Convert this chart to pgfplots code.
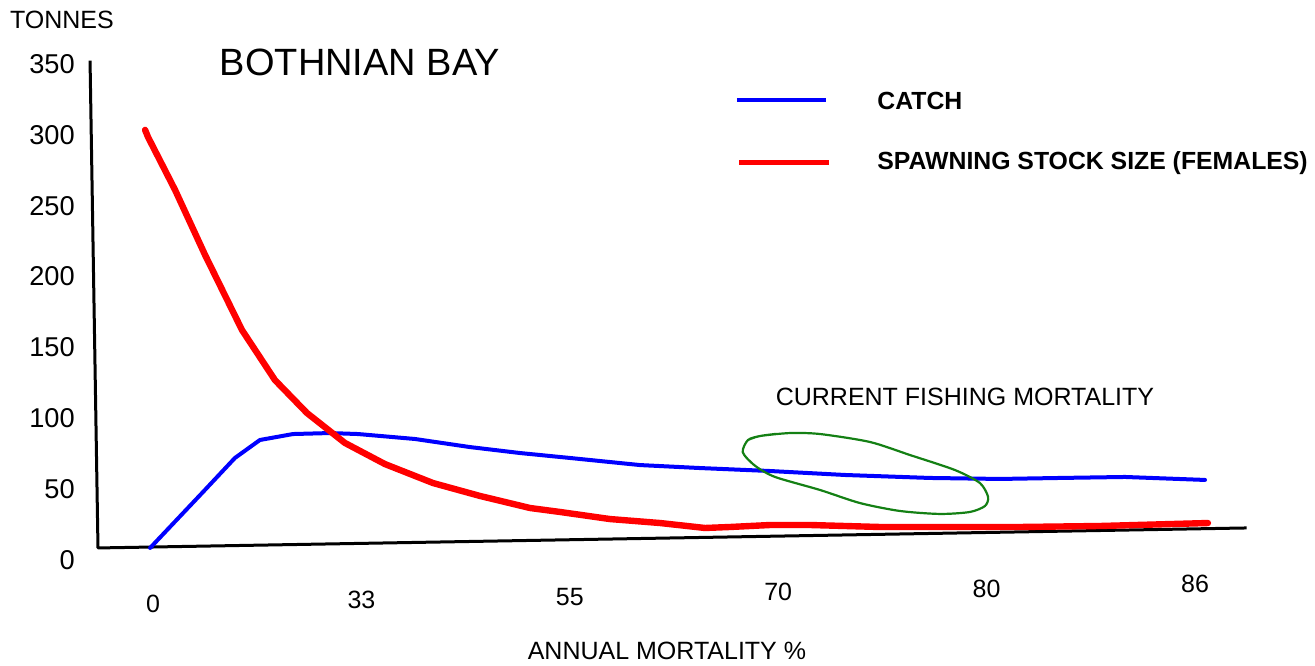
\documentclass[border=0pt]{standalone}
\usepackage{pgfplots}
\pgfplotsset{compat=1.18}
\usepackage{fontspec}
\setmainfont{Liberation Sans}
\definecolor{cblue}{RGB}{0,0,255}
\definecolor{cred}{RGB}{255,0,0}
\definecolor{cgreen}{RGB}{20,128,20}
\newcommand{\fs}[1]{\fontsize{#1}{#1}\selectfont}
\begin{document}
\begin{tikzpicture}
\begin{axis}[
  scale only axis, width=657.5pt, height=332.5pt,
  xmin=-0.7342, xmax=5.5758, ymin=-74.10, ymax=395.20,
  axis lines=none, ticks=none, clip=false,
  every axis plot/.append style={line join=round, line cap=round},
]
% axes (hand drawn, slightly tilted)
\addplot[black, line width=1.5pt, line cap=rect] coordinates {(-0.302,351.4) (-0.264,8.5) (5.240,22.6)};
% catch
\addplot[cblue, line width=2pt] coordinates {
(-0.014,8.5) (0.240,48.0) (0.393,72.0) (0.513,84.7) (0.672,88.9) (0.849,89.6)
(0.984,88.9) (1.257,85.4) (1.521,79.7) (1.761,75.5) (2.001,72.0) (2.337,67.0)
(2.625,64.9) (2.961,62.8) (3.321,60.0) (3.728,57.9) (4.064,57.2) (4.352,57.9)
(4.664,58.6) (5.048,56.5)};
% spawning stock
\addplot[cred, line width=3.2pt] coordinates {
(-0.038,303.5) (-0.024,298.5) (0.106,261.1) (0.250,215.2) (0.427,162.3) (0.585,127.0)
(0.739,103.7) (0.921,82.6) (1.113,67.7) (1.344,54.3) (1.569,45.2) (1.809,36.7)
(1.953,33.9) (2.193,28.9) (2.433,26.1) (2.649,22.6) (2.769,23.3) (2.961,24.7)
(3.153,24.7) (3.488,23.3) (3.824,23.3) (4.160,23.3) (4.544,24.0) (5.062,26.1)};
% current fishing mortality loop
\addplot[cgreen, line width=1.1pt, smooth, tension=0.45] coordinates {
(2.855,84.7) (2.913,87.5) (3.057,89.6) (3.201,88.9) (3.440,83.3) (3.632,74.1)
(3.848,63.5) (3.968,54.3) (4.007,44.5) (3.992,38.1) (3.920,33.9) (3.776,32.5)
(3.584,34.6) (3.392,40.2) (3.201,49.4) (2.985,58.6) (2.889,66.5) (2.830,76.0)
(2.855,84.7) (2.913,87.5) (2.990,89.0)};
% legend lines
\addplot[cblue, line width=2pt, line cap=butt] coordinates {(2.802,324.6) (3.229,324.6)};
\addplot[cred, line width=2.5pt, line cap=butt] coordinates {(2.812,280.2) (3.244,280.2)};
% legend texts
\node[anchor=west, inner sep=0pt, font=\fs{12.4pt}\bfseries] at (axis cs:3.474,323.9) {CATCH};
\node[anchor=west, inner sep=0pt, font=\fs{12.4pt}\bfseries] at (axis cs:3.474,280.2) {SPAWNING STOCK SIZE (FEMALES)};
% y tick labels
\node[anchor=east, inner sep=0pt, font=\fs{13.6pt}] at (axis cs:-0.374,0) {0};
\node[anchor=east, inner sep=0pt, font=\fs{13.6pt}] at (axis cs:-0.374,50) {50};
\node[anchor=east, inner sep=0pt, font=\fs{13.6pt}] at (axis cs:-0.374,100) {100};
\node[anchor=east, inner sep=0pt, font=\fs{13.6pt}] at (axis cs:-0.374,150) {150};
\node[anchor=east, inner sep=0pt, font=\fs{13.6pt}] at (axis cs:-0.374,200) {200};
\node[anchor=east, inner sep=0pt, font=\fs{13.6pt}] at (axis cs:-0.374,250) {250};
\node[anchor=east, inner sep=0pt, font=\fs{13.6pt}] at (axis cs:-0.374,300) {300};
\node[anchor=east, inner sep=0pt, font=\fs{13.6pt}] at (axis cs:-0.374,350) {350};
% x tick labels (following the tilted axis)
\node[inner sep=0pt, font=\fs{12.5pt}] at (axis cs:0,-31.1) {0};
\node[inner sep=0pt, font=\fs{12.5pt}] at (axis cs:1,-28.2) {33};
\node[inner sep=0pt, font=\fs{12.5pt}] at (axis cs:2,-26.1) {55};
\node[inner sep=0pt, font=\fs{12.5pt}] at (axis cs:3,-22.6) {70};
\node[inner sep=0pt, font=\fs{12.5pt}] at (axis cs:4,-20.5) {80};
\node[inner sep=0pt, font=\fs{12.5pt}] at (axis cs:5,-16.9) {86};
% texts
\node[inner sep=0pt, font=\fs{12.5pt}] at (axis cs:2.466,-64.2) {ANNUAL MORTALITY \%};
\node[inner sep=0pt, font=\fs{12.5pt}] at (axis cs:-0.437,381.1) {TONNES};
\node[inner sep=0pt, font=\fs{19pt}] at (axis cs:0.993,351.4) {BOTHNIAN BAY};
\node[inner sep=0pt, font=\fs{12.5pt}] at (axis cs:3.896,115.0) {CURRENT FISHING MORTALITY};
\end{axis}
\pgfresetboundingbox
\useasboundingbox (current axis.south west) rectangle (current axis.north east);
\end{tikzpicture}
\end{document}
